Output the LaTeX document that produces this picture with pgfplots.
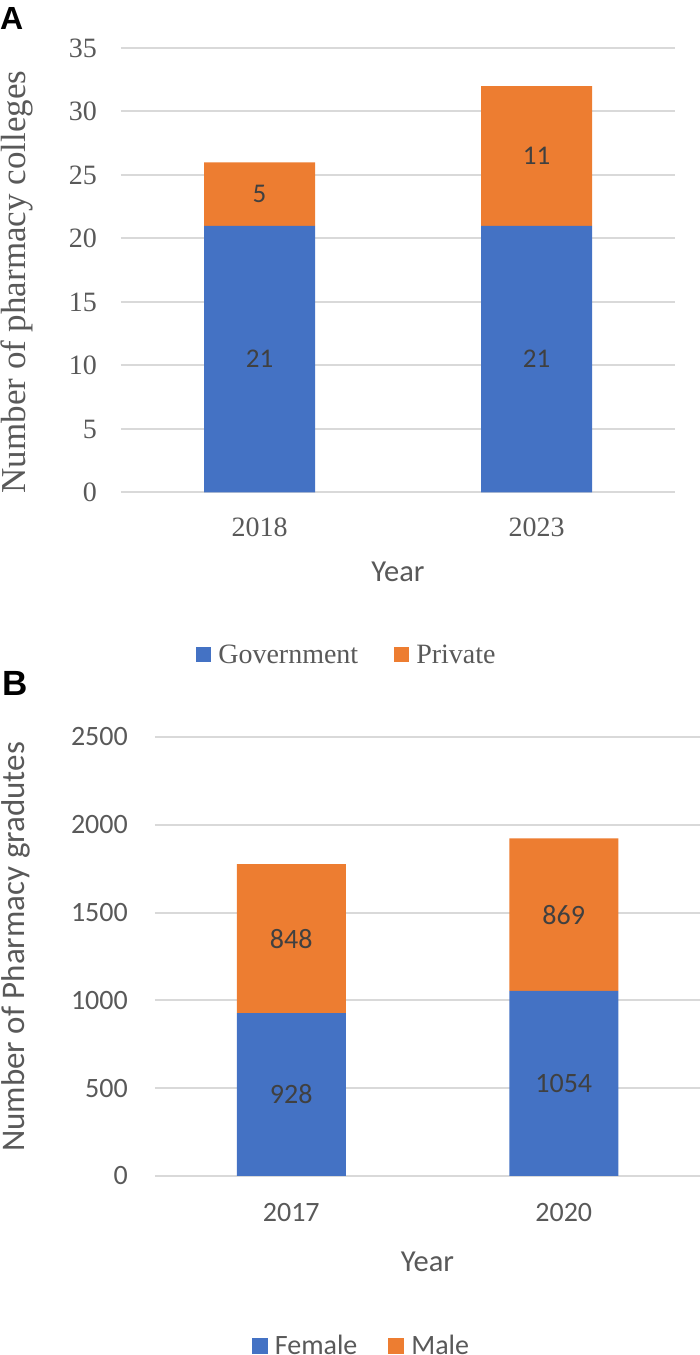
\documentclass[border=0pt]{standalone}
\usepackage{pgfplots}
\pgfplotsset{compat=1.18}
\usepackage{fontspec}
\setmainfont{Liberation Serif}
\newfontfamily\calibri{Carlito}
\newfontfamily\arial{Liberation Sans}
\definecolor{xblue}{HTML}{4472C4}
\definecolor{xorange}{HTML}{ED7D31}
\definecolor{xgrid}{HTML}{D9D9D9}
\definecolor{xtext}{HTML}{595959}
\definecolor{xlab}{HTML}{404040}

\pgfplotsset{
  excel/.style={
    scale only axis,
    axis line style={draw=none},
    major tick length=0pt,
    ymajorgrids,
    grid style={xgrid, line width=2pt},
    xmin=-0.5, xmax=1.5,
    xtick={0,1},
    ymin=0,
    ybar stacked,
    bar width=111pt,
    legend columns=2,
  },
  labs/.style={
    scale only axis, hide axis,
    xmin=-0.5, xmax=1.5, ymin=0,
  },
}

\begin{document}
\begin{tikzpicture}
\useasboundingbox (0,0) rectangle (700pt,1355pt);

% ---------------- Panel A ----------------
\begin{axis}[excel,
  at={(121pt,862.5pt)}, anchor=south west,
  width=554pt, height=444.5pt,
  ymax=35,
  ytick={0,5,10,15,20,25,30,35},
  yticklabels={0,5,10,15,20,25,30,35},
  xticklabels={2018,2023},
  yticklabel style={anchor=east, inner sep=0pt, xshift=-24pt, font=\fontsize{28}{33}\selectfont, text=xtext},
  xticklabel style={anchor=center, inner sep=0pt, yshift=-34.5pt, font=\fontsize{28}{33}\selectfont, text=xtext},
  xlabel={Year},
  xlabel style={at={(axis description cs:0.5,0)}, anchor=center, yshift=-79.5pt, inner sep=0pt, font=\calibri\fontsize{30.5}{36}\selectfont, text=xtext},
  ylabel={Number of pharmacy colleges},
  every axis y label/.style={at={(axis description cs:-0.1877,0.4736)}, rotate=90, anchor=center, inner sep=0pt, font=\fontsize{35}{41}\selectfont, text=xtext},
  legend style={at={(axis description cs:0.406,-0.3645)}, anchor=center, draw=none, fill=none,
    font=\fontsize{28}{33}\selectfont, text=xtext, nodes={inner sep=0pt},
    /tikz/every odd column/.append style={column sep=7pt},
    /tikz/every even column/.append style={column sep=36pt}},
]
\addplot[fill=xblue, draw=none, legend image code/.code={\fill[xblue] (0pt,-7.5pt) rectangle (15pt,7.5pt);}] coordinates {(0,21) (1,21)};
\addplot[fill=xorange, draw=none, legend image code/.code={\fill[xorange] (0pt,-7.5pt) rectangle (15pt,7.5pt);}] coordinates {(0,5) (1,11)};
\legend{Government, Private}
\end{axis}

\begin{axis}[labs, at={(121pt,862.5pt)}, anchor=south west, width=554pt, height=444.5pt, ymax=35]
\addplot[only marks, mark=*, mark size=0pt, mark options={draw=none,fill=none},
  nodes near coords, point meta=explicit symbolic,
  every node near coord/.append style={anchor=center, inner sep=0pt, font=\calibri\fontsize{27}{32}\selectfont, text=xlab}]
  coordinates {(0,10.5)[21] (1,10.5)[21] (0,23.5)[5] (1,26.5)[11]};
\end{axis}

% ---------------- Panel B ----------------
\begin{axis}[excel,
  at={(155pt,179pt)}, anchor=south west,
  width=545pt, height=439pt,
  ymax=2500,
  ytick={0,500,1000,1500,2000,2500},
  yticklabels={0,500,1000,1500,2000,2500},
  xticklabels={2017,2020},
  bar width=109pt,
  yticklabel style={anchor=east, inner sep=0pt, xshift=-27pt, font=\calibri\fontsize{28}{33}\selectfont, text=xtext},
  xticklabel style={anchor=center, inner sep=0pt, yshift=-37pt, font=\calibri\fontsize{28}{33}\selectfont, text=xtext},
  xlabel={Year},
  xlabel style={at={(axis description cs:0.5,0)}, anchor=center, yshift=-86pt, inner sep=0pt, font=\calibri\fontsize{30.5}{36}\selectfont, text=xtext},
  ylabel={Number of Pharmacy gradutes},
  every axis y label/.style={at={(axis description cs:-0.2550,0.5216)}, rotate=90, anchor=center, inner sep=0pt, font=\calibri\fontsize{33}{40}\selectfont, text=xtext},
  legend style={at={(axis description cs:0.377,-0.3872)}, anchor=center, draw=none, fill=none,
    font=\calibri\fontsize{28}{33}\selectfont, text=xtext, nodes={inner sep=0pt},
    /tikz/every odd column/.append style={column sep=7pt},
    /tikz/every even column/.append style={column sep=31pt}},
]
\addplot[fill=xblue, draw=none, legend image code/.code={\fill[xblue] (0pt,-8pt) rectangle (16pt,8pt);}] coordinates {(0,928) (1,1054)};
\addplot[fill=xorange, draw=none, legend image code/.code={\fill[xorange] (0pt,-8pt) rectangle (16pt,8pt);}] coordinates {(0,848) (1,869)};
\legend{Female, Male}
\end{axis}

\begin{axis}[labs, at={(155pt,179pt)}, anchor=south west, width=545pt, height=439pt, ymax=2500]
\addplot[only marks, mark=*, mark size=0pt, mark options={draw=none,fill=none},
  nodes near coords, point meta=explicit symbolic,
  every node near coord/.append style={anchor=center, inner sep=0pt, font=\calibri\fontsize{28}{33}\selectfont, text=xlab}]
  coordinates {(0,464)[928] (1,527)[1054] (0,1352)[848] (1,1488.5)[869]};
\end{axis}

% panel letters
\node[anchor=base west, inner sep=0pt, font=\arial\bfseries\fontsize{32}{38}\selectfont] at (0pt,1325pt) {A};
\node[anchor=base west, inner sep=0pt, font=\arial\bfseries\fontsize{35}{40}\selectfont] at (2pt,659pt) {B};
\end{tikzpicture}
\end{document}
